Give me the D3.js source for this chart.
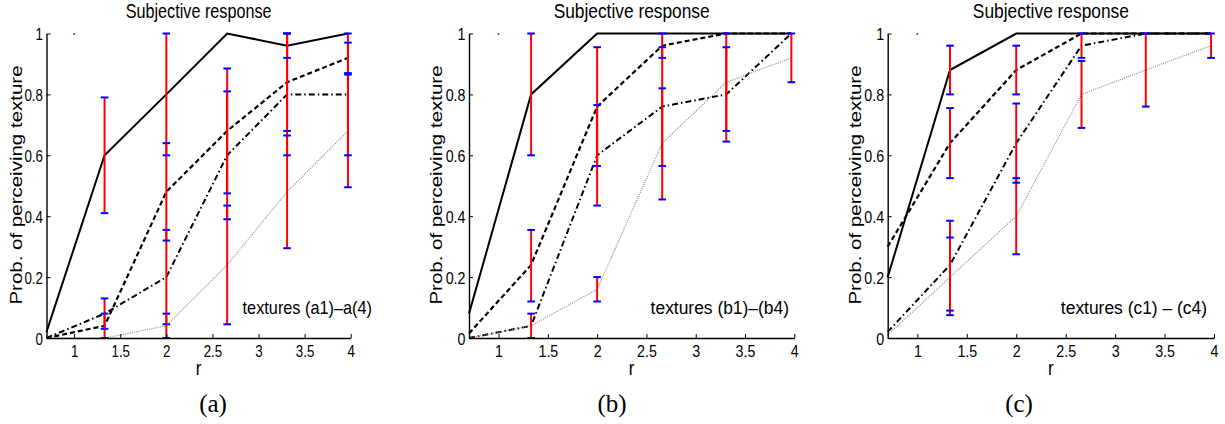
<!DOCTYPE html>
<html>
<head>
<meta charset="utf-8">
<script src="https://cdn.jsdelivr.net/npm/d3@7"></script>
<style>
  body { margin: 0; background: #fff; }
</style>
</head>
<body>
<svg id="fig" width="1225" height="424"></svg>
<script>
// r values where the curves and error bars sit
const rValues = [0.7, 1.33, 2.0, 2.66, 3.31, 3.97];
const xTicks = [1, 1.5, 2, 2.5, 3, 3.5, 4];
const yTicks = [0, 0.2, 0.4, 0.6, 0.8, 1];

// panel (a)
const aSolid   = [0.02, 0.6, 0.8, 1.0, 0.96, 1.0];
const aDashed  = [0.0, 0.04, 0.48, 0.68, 0.84, 0.92];
const aDashDot = [0.0, 0.08, 0.2, 0.6, 0.8, 0.8];
const aDotted  = [0.0, 0.0, 0.04, 0.24, 0.48, 0.68];
const aErrors = [
  [1.33, 0.41, 0.79], [1.33, 0.03, 0.13], [1.33, 0.0, 0.08],
  [2.0, 0.6, 1.0], [2.0, 0.32, 0.64], [2.0, 0.045, 0.355], [2.0, 0.0, 0.08],
  [2.66, 0.475, 0.885], [2.66, 0.39, 0.81], [2.66, 0.045, 0.435],
  [3.31, 0.92, 1.0], [3.31, 0.68, 1.0], [3.31, 0.6, 1.0], [3.31, 0.295, 0.665],
  [3.97, 0.87, 0.97], [3.97, 0.6, 1.0], [3.97, 0.495, 0.865]
];

// panel (b)
const bSolid   = [0.08, 0.8, 1.0, 1.0, 1.0, 1.0];
const bDashed  = [0.015, 0.24, 0.76, 0.96, 1.0, 1.0];
const bDashDot = [0.0, 0.04, 0.6, 0.76, 0.8, 1.0];
const bDotted  = [0.0, 0.04, 0.16, 0.64, 0.84, 0.92];
const bErrors = [
  [1.33, 0.6, 1.0], [1.33, 0.12, 0.355], [1.33, 0.0, 0.08],
  [2.0, 0.565, 0.955], [2.0, 0.435, 0.765], [2.0, 0.12, 0.2],
  [2.66, 0.92, 1.0], [2.66, 0.565, 0.955], [2.66, 0.455, 0.82],
  [3.31, 0.645, 0.955], [3.31, 0.68, 1.0],
  [3.97, 0.84, 1.0]
];

// panel (c)
const cSolid   = [0.2, 0.88, 1.0, 1.0, 1.0, 1.0];
const cDashed  = [0.3, 0.64, 0.88, 1.0, 1.0, 1.0];
const cDashDot = [0.02, 0.24, 0.64, 0.96, 1.0, 1.0];
const cDotted  = [0.01, 0.2, 0.4, 0.8, 0.88, 0.96];
const cErrors = [
  [1.33, 0.8, 0.96], [1.33, 0.525, 0.755], [1.33, 0.09, 0.385], [1.33, 0.075, 0.33],
  [2.0, 0.8, 0.96], [2.0, 0.51, 0.77], [2.0, 0.275, 0.525],
  [2.66, 0.92, 1.0], [2.66, 0.69, 0.91],
  [3.31, 0.76, 1.0],
  [3.97, 0.92, 1.0]
];

// the lone blue speck at r=1, p=1 in every panel
const strayMarks = [[1, 1]];

const titleText = 'Subjective response';
const yLabelText = 'Prob. of perceiving texture';
const xLabelText = 'r';
const textureLabels = ['textures (a1)\u2013a(4)', 'textures (b1)\u2013(b4)', 'textures (c1) \u2013 (c4)'];
const panelLetters = ['(a)', '(b)', '(c)'];

const panels = [
  { left: 46.5, right: 350.7, sx: 0.935, ylab: 16.7, texEnd: 372, letterX: 213,
    lines: [aSolid, aDashed, aDashDot, aDotted], errors: aErrors },
  { left: 469, right: 794.3, sx: 1, ylab: 436.7, texEnd: 789, letterX: 612,
    lines: [bSolid, bDashed, bDashDot, bDotted], errors: bErrors },
  { left: 887.7, right: 1214, sx: 1, ylab: 855, texEnd: 1207, letterX: 1019,
    lines: [cSolid, cDashed, cDashDot, cDotted], errors: cErrors }
];

const lineStyles = [
  { stroke: '#000', width: 2, dash: null },
  { stroke: '#000', width: 2.2, dash: '5,3' },
  { stroke: '#000', width: 2, dash: '6,3,1.5,3' },
  { stroke: '#8c8c8c', width: 1.2, dash: '1,1.2' }
];

const sans = '"Liberation Sans", Arial, sans-serif';
const serif = '"Liberation Serif", "Times New Roman", serif';

const svg = d3.select('#fig');
const plotTop = 33.5, plotBottom = 338;

panels.forEach((p, i) => {
  const x = d3.scaleLinear().domain([0.7, 4]).range([p.left, p.right]);
  const y = d3.scaleLinear().domain([0, 1]).range([plotBottom, plotTop]);
  const g = svg.append('g');
  const mid = (p.left + p.right) / 2;

  // curves
  p.lines.forEach((vals, k) => {
    const st = lineStyles[k];
    const line = d3.line().x((d, j) => x(rValues[j])).y(d => y(d));
    g.append('path')
      .datum(vals)
      .attr('d', line)
      .attr('fill', 'none')
      .attr('stroke', st.stroke)
      .attr('stroke-width', st.width)
      .attr('stroke-dasharray', st.dash)
      .attr('stroke-linejoin', 'miter');
  });

  // error bars: red stem, blue caps
  p.errors.forEach(e => {
    g.append('line')
      .attr('x1', x(e[0])).attr('x2', x(e[0]))
      .attr('y1', y(e[1])).attr('y2', y(e[2]))
      .attr('stroke', '#ff0000').attr('stroke-width', 2);
  });
  p.errors.forEach(e => {
    [e[1], e[2]].forEach(v => {
      g.append('line')
        .attr('x1', x(e[0]) - 3.8).attr('x2', x(e[0]) + 3.8)
        .attr('y1', y(v)).attr('y2', y(v))
        .attr('stroke', '#0000ff').attr('stroke-width', 2);
    });
  });
  strayMarks.forEach(s => {
    g.append('line')
      .attr('x1', x(s[0]) - 0.8).attr('x2', x(s[0]) + 0.8)
      .attr('y1', y(s[1]) + 0.5).attr('y2', y(s[1]) + 0.5)
      .attr('stroke', '#0000ff').attr('stroke-width', 1.5);
  });

  // axes
  const xAxis = d3.axisBottom(x).tickValues(xTicks).tickFormat(d3.format('~g'))
    .tickSizeInner(-4).tickSizeOuter(0).tickPadding(0);
  const yAxis = d3.axisLeft(y).tickValues(yTicks).tickFormat(d3.format('~g'))
    .tickSizeInner(-4).tickSizeOuter(0).tickPadding(4);

  const gx = g.append('g').attr('transform', `translate(0,${plotBottom})`).call(xAxis);
  const gy = g.append('g').attr('transform', `translate(${p.left},0)`).call(yAxis);
  [gx, gy].forEach(ax => {
    ax.select('.domain').attr('stroke', '#000').attr('stroke-width', 1.4);
    ax.selectAll('.tick line').attr('stroke', '#000').attr('stroke-width', 1);
    ax.selectAll('.tick text')
      .style('font-family', sans)
      .style('font-size', '17px')
      .attr('fill', '#000');
  });
  gx.selectAll('.tick text')
    .attr('y', null).attr('dy', null)
    .attr('transform', `translate(0,18.5) scale(${0.84 * p.sx},1)`);
  gy.selectAll('.tick text')
    .attr('x', null).attr('dy', null)
    .attr('transform', `translate(-3.5,6) scale(${0.84 * p.sx},1)`);

  // title
  g.append('text')
    .attr('transform', `translate(${mid},18) scale(${0.867 * p.sx},1)`)
    .attr('text-anchor', 'middle')
    .style('font-family', sans).style('font-size', '20px')
    .text(titleText);

  // y label
  g.append('text')
    .attr('transform', `translate(${p.ylab},185) scale(0.78,1) rotate(-90)`)
    .attr('text-anchor', 'middle')
    .attr('dy', '0.35em')
    .style('font-family', sans).style('font-size', '20.5px')
    .text(yLabelText);

  // x label
  g.append('text')
    .attr('transform', `translate(${mid},375) scale(0.85,1)`)
    .attr('text-anchor', 'middle')
    .style('font-family', sans).style('font-size', '20px')
    .text(xLabelText);

  // texture annotation
  g.append('text')
    .attr('transform', `translate(${p.texEnd},314) scale(${0.968 * p.sx},1)`)
    .attr('text-anchor', 'end')
    .style('font-family', sans).style('font-size', '18px')
    .text(textureLabels[i]);

  // panel letter
  g.append('text')
    .attr('x', p.letterX).attr('y', 412)
    .attr('text-anchor', 'middle')
    .style('font-family', serif).style('font-size', '25px')
    .text(panelLetters[i]);
});
</script>
</body>
</html>
